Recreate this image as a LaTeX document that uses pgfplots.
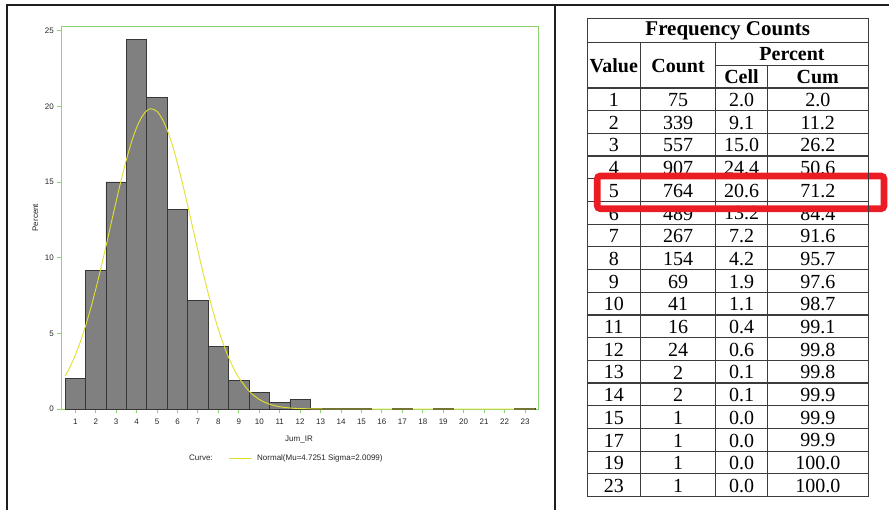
\documentclass[border=0pt]{standalone}
\usepackage{pgfplots}
\pgfplotsset{compat=1.18}
\usepackage{fontspec}
\setmainfont{Liberation Serif}
\newfontfamily\arial{Liberation Sans}
\definecolor{axgreen}{RGB}{140,210,110}
\definecolor{barg}{RGB}{128,128,128}
\definecolor{bard}{RGB}{55,55,55}
\definecolor{curvey}{RGB}{225,225,45}
\definecolor{tabline}{RGB}{60,60,60}
\definecolor{frame}{RGB}{30,30,30}
\definecolor{redbox}{RGB}{236,28,36}
\newcommand{\chartfont}{\arial\fontsize{8bp}{9.6bp}\selectfont}
\begin{document}
\begin{tikzpicture}
\fill[white] (0bp,0bp) rectangle (889bp,510bp);
\path[use as bounding box] (0bp,0bp) rectangle (889bp,510bp);
\begin{axis}[
  at={(61.7bp,101bp)}, anchor=south west,
  scale only axis, width=477bp, height=382.7bp,
  xmin=0.335, xmax=23.67, ymin=0, ymax=25.3,
  xtick={1,...,23}, ytick={0,5,10,15,20,25},
  tick pos=left, tick align=outside, major tick length=4.3bp,
  tick style={draw=axgreen, line width=0.9bp},
  axis line style={draw=axgreen, line width=0.9bp},
  /pgf/number format/assume math mode=true,
  ticklabel style={font=\chartfont, text=black!85},
  xticklabel style={yshift=-2.5bp},
  xlabel={Jum\_IR}, ylabel={Percent},
  label style={font=\chartfont, text=black!85},
  xlabel style={at={(axis description cs:0.4975,-0.081)}, anchor=center},
  ylabel style={at={(axis description cs:-0.055,0.5)}, anchor=center},
  clip=false,
]
\addplot[ybar, bar width=1, bar shift=0pt, fill=barg, draw=bard, line width=0.8bp] coordinates {
(1,2.02) (2,9.14) (3,15.01) (4,24.45) (5,20.59) (6,13.18) (7,7.20) (8,4.15)
(9,1.86) (10,1.11) (11,0.43) (12,0.65) (13,0.054) (14,0.054) (15,0.027)
(17,0.027) (19,0.027) (23,0.027)};
\addplot[curvey, line width=0.9bp, smooth] coordinates {
(0.5,2.178) (0.75,2.808) (1.0,3.563) (1.25,4.452) (1.5,5.479) (1.75,6.638)
(2.0,7.916) (2.25,9.300) (2.5,10.755) (2.75,12.250) (3.0,13.734) (3.25,15.163)
(3.5,16.485) (3.75,17.647) (4.0,18.600) (4.25,19.302) (4.5,19.726) (4.7251,19.85)
(5.0,19.665) (5.25,19.184) (5.5,18.428) (5.75,17.430) (6.0,16.233) (6.25,14.886)
(6.5,13.441) (6.75,11.950) (7.0,10.461) (7.25,9.017) (7.5,7.653) (7.75,6.396)
(8.0,5.263) (8.25,4.265) (8.5,3.402) (8.75,2.673) (9.0,2.067) (9.5,1.181)
(10.0,0.634) (10.5,0.320) (11.0,0.152) (11.5,0.068) (12.0,0.028) (13.0,0.004)
(14.0,0.0004) (16.0,0) (20.0,0) (23.5,0)};
\end{axis}
\begin{scope}[x=1bp, y=-1bp, shift={(0bp,510bp)}]
% legend
\node[font=\chartfont, text=black!85, inner sep=0pt] at (201,458) {Curve:};
\draw[curvey, line width=0.9bp] (229,458) -- (252,458);
\node[font=\chartfont, text=black!85, inner sep=0pt, anchor=west] at (257,458) {Normal(Mu=4.7251 Sigma=2.0099)};
% frame
\draw[frame, line width=2.2bp] (7,5) -- (889,5);
\draw[frame, line width=2.2bp] (7,4) -- (7,510);
\draw[frame, line width=2.2bp] (555,4) -- (555,510);
% table
\begin{scope}[draw=tabline, line width=1.2bp]
\draw (587.3,18.7) rectangle (868.3,496.7);
\draw (587.3,42.7) -- (868.3,42.7);
\draw (715.7,65.3) -- (868.3,65.3);
\foreach \k in {0,...,17} { \draw (587.3,{88+22.7*\k}) -- (868.3,{88+22.7*\k}); }
\draw (640.3,42.7) -- (640.3,496.7);
\draw (715.7,42.7) -- (715.7,496.7);
\draw (767.3,65.3) -- (767.3,496.7);
\end{scope}
\node[font=\bfseries\fontsize{21bp}{24bp}\selectfont, inner sep=0pt] at (727.8,30.9) {Frequency Counts};
\begin{scope}[every node/.style={font=\bfseries\fontsize{20bp}{24bp}\selectfont, inner sep=0pt}]
\node at (613.8,65.8) {Value};
\node at (678,65.8) {Count};
\node at (792,54.3) {Percent};
\node at (741.5,77) {Cell};
\node at (817.8,77) {Cum};
\end{scope}
\begin{scope}[every node/.style={font=\fontsize{20bp}{24bp}\selectfont, inner sep=0pt}]
\foreach \v/\c/\p/\q [count=\i] in {1/75/2.0/2.0, 2/339/9.1/11.2, 3/557/15.0/26.2,
 4/907/24.4/50.6, 5/764/20.6/71.2, 6/489/13.2/84.4, 7/267/7.2/91.6, 8/154/4.2/95.7,
 9/69/1.9/97.6, 10/41/1.1/98.7, 11/16/0.4/99.1, 12/24/0.6/99.8, 13/2/0.1/99.8,
 14/2/0.1/99.9, 15/1/0.0/99.9, 17/1/0.0/99.9, 19/1/0.0/100.0, 23/1/0.0/100.0} {
  \node at (613.8,{77.3+22.7*\i}) {\v};
  \node at (678,{77.3+22.7*\i}) {\c};
  \node at (741.5,{77.3+22.7*\i}) {\p};
  \node at (817.8,{77.3+22.7*\i}) {\q};
}
\end{scope}
% highlight box
\draw[redbox, line width=6.7bp, rounded corners=3bp] (597.3,176) rectangle (884,208.7);
\draw[tabline, line width=1.2bp] (868.3,170) -- (868.3,214);
\end{scope}
\end{tikzpicture}
\end{document}
